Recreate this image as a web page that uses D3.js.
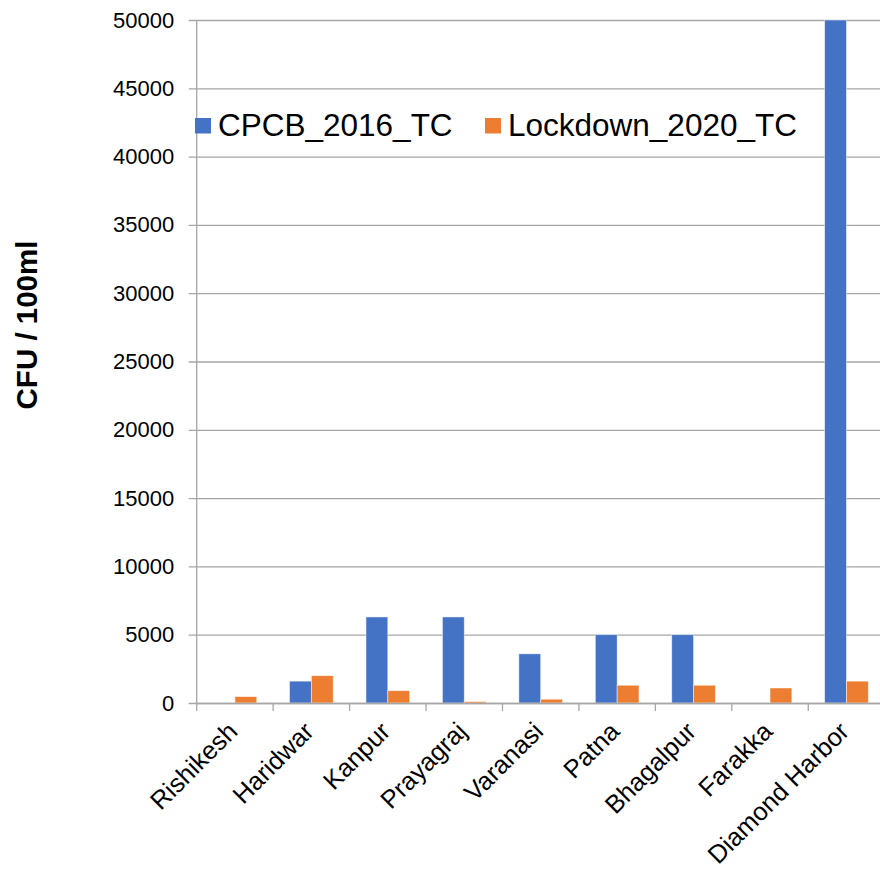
<!DOCTYPE html>
<html>
<head>
<meta charset="utf-8">
<script src="https://cdn.jsdelivr.net/npm/d3@7/dist/d3.min.js"></script>
<style>
  html, body { margin: 0; padding: 0; background: #fff; }
  svg { display: block; font-family: "Liberation Sans", Arial, sans-serif; }
</style>
</head>
<body>
<svg id="chart" width="880" height="873"></svg>
<script>
// Total coliform along the Ganga, 2016 survey vs. 2020 lockdown
const sites = ["Rishikesh", "Haridwar", "Kanpur", "Prayagraj", "Varanasi",
               "Patna", "Bhagalpur", "Farakka", "Diamond Harbor"];
const cpcb2016 = [0, 1600, 6300, 6300, 3600, 5000, 5000, 0, 50000];
const lockdown2020 = [470, 2000, 900, 100, 280, 1300, 1300, 1100, 1600];
const seriesNames = ["CPCB_2016_TC", "Lockdown_2020_TC"];
const seriesColors = ["#4472C4", "#ED7D31"];
const yTicks = [0, 5000, 10000, 15000, 20000, 25000, 30000, 35000, 40000, 45000, 50000];

const svg = d3.select("#chart");
const plot = { left: 196.7, right: 884.7, top: 20, bottom: 703 };
const gridColor = "#A6A6A6";

const x0 = d3.scaleBand().domain(sites).range([plot.left, plot.right]).paddingInner(0).paddingOuter(0);
// 150% gap width: each bar is step / 3.5, gap split evenly on both sides
const x1 = d3.scaleBand().domain(seriesNames)
  .range([0, x0.bandwidth()]).paddingInner(0).paddingOuter(0.75);
const y = d3.scaleLinear().domain([0, 50000]).range([plot.bottom, plot.top]);

// Horizontal gridlines with y tick labels
const yAxis = d3.axisLeft(y).tickValues(yTicks).tickSize(-(plot.right - plot.left)).tickSizeOuter(0)
  .tickPadding(15).tickFormat(d3.format("d"));
const gy = svg.append("g").attr("transform", `translate(${plot.left},0)`).call(yAxis);
gy.select(".domain").remove();
gy.selectAll(".tick line").attr("stroke", gridColor).attr("stroke-width", 1.3).attr("x1", -8);
gy.selectAll(".tick text").attr("fill", "#000").style("font-size", "22px").attr("x", -22.5);

// Vertical axis line
svg.append("line")
  .attr("x1", plot.left).attr("x2", plot.left)
  .attr("y1", plot.top).attr("y2", plot.bottom)
  .attr("stroke", gridColor).attr("stroke-width", 1.3);

// Bars
const rows = sites.map((s, i) => ({ site: s, values: [cpcb2016[i], lockdown2020[i]] }));
const groups = svg.append("g").selectAll("g").data(rows).join("g")
  .attr("transform", d => `translate(${x0(d.site)},0)`);
groups.selectAll("rect")
  .data(d => d.values.map((v, k) => ({ key: seriesNames[k], value: v, color: seriesColors[k] })))
  .join("rect")
  .attr("x", d => x1(d.key))
  .attr("width", x1.bandwidth())
  .attr("y", d => y(d.value))
  .attr("height", d => y(0) - y(d.value))
  .attr("fill", d => d.color)
  .attr("stroke", "#fff")
  .attr("stroke-width", 0.8)
  .attr("stroke-opacity", d => d.value > 0 ? 0.6 : 0);

// Category axis
const xAxis = d3.axisBottom(x0).tickSize(0).tickFormat("");
const gx = svg.append("g").attr("transform", `translate(0,${plot.bottom})`).call(xAxis);
gx.select(".domain").attr("stroke", gridColor).attr("stroke-width", 1.3);
// Tick marks sit on category boundaries
const boundaries = sites.map(s => x0(s));
gx.selectAll("line.bound").data(boundaries).join("line").attr("class", "bound")
  .attr("x1", d => d).attr("x2", d => d).attr("y1", 0).attr("y2", 8)
  .attr("stroke", gridColor).attr("stroke-width", 1.3);

// Rotated category labels
svg.append("g").selectAll("text").data(sites).join("text")
  .attr("transform", d => `translate(${x0(d) + x0.bandwidth() / 2 + 4},733) rotate(-45)`)
  .attr("text-anchor", "end")
  .style("font-size", "25.5px")
  .attr("fill", "#000")
  .text(d => d);

// Axis title
svg.append("text")
  .attr("transform", `translate(37,325) rotate(-90)`)
  .attr("text-anchor", "middle")
  .style("font-size", "29.5px")
  .style("font-weight", "bold")
  .attr("fill", "#000")
  .text("CFU / 100ml");

// Legend
const legendItems = [
  { name: seriesNames[0], color: seriesColors[0], x: 195 },
  { name: seriesNames[1], color: seriesColors[1], x: 485 }
];
const lg = svg.append("g").selectAll("g").data(legendItems).join("g")
  .attr("transform", d => `translate(${d.x},0)`);
lg.append("rect").attr("x", 0).attr("y", 118).attr("width", 16).attr("height", 15.5).attr("fill", d => d.color);
lg.append("text").attr("x", 23).attr("y", 136)
  .style("font-size", "31.5px").attr("fill", "#000").text(d => d.name);
</script>
</body>
</html>
